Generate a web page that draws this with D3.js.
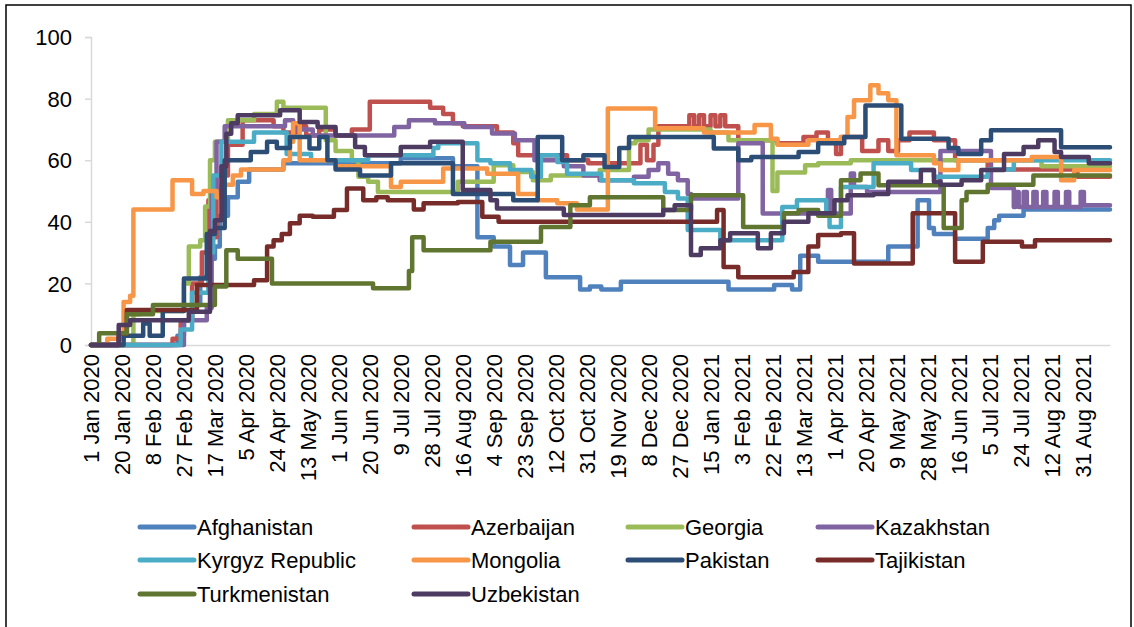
<!DOCTYPE html>
<html>
<head>
<meta charset="utf-8">
<script src="https://cdn.jsdelivr.net/npm/d3@7"></script>
<style>
  body { margin: 0; background: #fff; }
  text { font-family: "Liberation Sans", Arial, sans-serif; fill: #000; }
</style>
</head>
<body>
<div id="chart"></div>
<script>
// daily index since 1 Jan 2020; each series is a list of [day, value] change points
var startDate = new Date(2020, 0, 1);
var lastDay = 625;
var tickDays = d3.range(0, 609, 19);
var yTicks = [0, 20, 40, 60, 80, 100];

var countries = ["Afghanistan", "Azerbaijan", "Georgia", "Kazakhstan", "Kyrgyz Republic",
                 "Mongolia", "Pakistan", "Tajikistan", "Turkmenistan", "Uzbekistan"];
var colors = ["#4F81BD", "#C0504D", "#9BBB59", "#8064A2", "#4BACC6",
              "#F79646", "#2C4D75", "#772C2A", "#5F7530", "#4D3B62"];

var afghanistan = [[0,0],[53,3],[57,8],[62,13],[67,22],[72,28],[76,32],[79,42],[84,48],[90,53],[97,57],
  [118,59],[190,60.6],[222,58],[237,35],[247,32],[257,26],[265,30],[279,22],[300,18],[306,19],[313,18],
  [325,20.5],[391,18],[419,19.5],[430,18],[435,29],[446,27],[489,32],[507,47],[514,38],[517,36],
  [530,34.5],[550,38],[554,40.5],[557,42],[572,44]];
var azerbaijan = [[0,0],[50,2],[55,8],[62,20],[68,30],[72,47],[74,35],[77,55],[84,65],[93,73],[112,71],
  [118,69],[126,71],[132,68],[140,70],[150,68],[160,70],[171,79],[208,77],[216,75],[222,72],[228,71],
  [249,69],[259,65.5],[262,61.6],[292,60],[305,59],[337,65],[341,60],[345,65],[348,71],[367,74.6],
  [370,71],[373,74.6],[376,71],[380,74.6],[383,71],[386,74.6],[389,71],[397,66.5],[421,65.5],
  [437,67.5],[445,69],[452,66.5],[457,62],[460,67.5],[473,63],[483,66.5],[489,63],[495,66.5],
  [502,69],[517,66.5],[530,60],[550,57],[605,54.6]];
var georgia = [[0,0],[26,10],[30,11],[57,20],[60,32],[67,34],[70,45],[73,60],[76,66],[84,73],[100,75],
  [114,79],[118,77],[144,66.5],[150,63],[160,60],[164,54.6],[170,53],[176,49.7],[225,53],[247,58.4],
  [259,56.2],[271,53.5],[282,55],[312,56.8],[330,65.5],[334,66.5],[342,70],[380,69],[391,66.5],
  [418,50],[421,56],[438,58.4],[446,59],[466,60],[583,58]];
var kazakhstan = [[0,0],[57,8],[71,12],[74,50],[77,66],[82,71],[119,73],[124,70],[136,68],[186,70.8],
  [195,73],[211,72],[229,70.8],[246,68.7],[260,66.5],[272,60],[290,58],[302,55],[312,53.5],[333,54.6],
  [342,56.8],[348,59],[354,55.6],[360,53.5],[366,49],[368,47.6],[397,65.5],[412,42.7],[452,50.3],
  [454,42.7],[466,55.7],[468,51.3],[476,49.7],[521,63],[552,51],[566,44.8],[567,49.7],[569,44.8],
  [572,49.7],[574,44.8],[578,49.7],[580,44.8],[584,49.7],[586,44.8],[591,49.7],[593,44.8],[598,49.7],
  [600,44.8],[607,49.7],[609,45.4]];
var kyrgyz = [[0,0],[55,5],[62,17],[72,30],[75,55],[80,66],[100,69],[120,62],[135,60],[170,61.6],
  [210,64],[213,65.5],[237,60],[245,59],[257,56.8],[270,54.6],[276,61.6],[286,59.4],[292,55.6],
  [313,53.5],[333,52.5],[352,49.7],[360,47.6],[366,37.3],[386,34],[424,44.8],[433,47],[451,42.8],
  [453,38.3],[460,51.3],[480,59],[503,56.8],[517,54.6],[550,57],[566,60]];
var mongolia = [[0,0],[10,2],[20,14],[24,16],[26,44],[50,53.5],[62,49],[69,50],[77,48],[80,52],[87,55],
  [92,57],[118,60],[122,66],[124,72],[128,60],[150,58],[184,51.3],[190,53],[216,57.3],[243,55.6],
  [262,49],[274,47],[286,46],[298,44],[317,76.8],[346,70.4],[376,69],[407,71.4],[417,67],[421,65],
  [440,66.5],[460,67.5],[464,74],[468,79.5],[478,84.3],[483,81.7],[489,79.5],[494,61.6],[517,59],
  [521,56.8],[532,60],[577,61],[595,53.5],[603,56.8]];
var pakistan = [[0,0],[20,3],[32,7],[36,3],[44,11],[57,21.6],[71,36],[76,38],[82,60],[98,62.7],
  [108,66],[114,64],[122,67.5],[134,63.8],[140,67.5],[145,60],[150,57],[165,55],[184,59],[222,49],
  [259,47],[274,67.5],[289,60],[302,61.6],[315,57.8],[324,64],[330,67.5],[382,63.8],[397,60],[405,61],
  [434,62.7],[446,65.5],[462,67.5],[475,77.8],[497,67],[526,64],[532,62],[546,66.5],[552,69.7],
  [595,64.2]];
var tajikistan = [[0,0],[17,3.7],[22,11.4],[60,11.4],[65,19.5],[100,21],[108,32],[112,34],[117,36],
  [122,39.5],[128,42],[136,41.6],[149,43.8],[157,50.8],[167,47],[175,48],[182,47],[198,44],[204,46],
  [225,46.4],[240,41.6],[250,40],[384,43.8],[388,25.3],[397,22],[431,23.7],[440,32],[446,35.7],
  [460,36.3],[468,26.5],[504,42.8],[530,27],[547,33.5],[571,32],[579,34]];
var turkmenistan = [[0,0],[5,3.8],[22,10],[38,13],[76,19],[83,30.8],[90,28],[111,20],[173,18.4],
  [195,24],[197,35],[204,30.8],[245,33.5],[276,38.3],[294,45.4],[306,48],[351,43.8],[368,48.6],
  [400,38.3],[425,42.8],[434,43.8],[446,42],[460,53.5],[472,55.7],[483,51.9],[523,38],[534,47],
  [537,49.7],[550,52],[578,55]];
var uzbekistan = [[0,0],[17,6.5],[24,8],[60,10.8],[73,37],[76,40.5],[80,58],[83,68.6],[86,72],[90,74.6],
  [116,76.2],[128,72.4],[139,70.8],[150,68],[162,64.3],[168,61.6],[190,64.3],[208,66],[228,50.3],
  [245,47],[249,44.3],[290,42.2],[351,43.8],[358,45.4],[368,29.2],[374,31.4],[386,34],[392,36.3],
  [409,31.4],[417,36.3],[425,40],[440,42.8],[456,47],[464,48.6],[480,49],[489,53],[509,56.8],[517,53],
  [521,52],[534,53.5],[546,56.8],[560,62],[572,64.3],[581,66.5],[591,62.7],[595,61],[612,59]];

var series = [afghanistan, azerbaijan, georgia, kazakhstan, kyrgyz,
              mongolia, pakistan, tajikistan, turkmenistan, uzbekistan];

var width = 1134, height = 627;
var svg = d3.select("#chart").append("svg")
  .attr("width", width)
  .attr("height", height);

svg.append("rect")
  .attr("x", 6).attr("y", 5)
  .attr("width", 1125).attr("height", 640)
  .attr("fill", "#fff")
  .attr("stroke", "#000")
  .attr("stroke-width", 1.5);

var x = d3.scaleLinear().domain([0, lastDay]).range([91, 1110]);
var y = d3.scaleLinear().domain([0, 100]).range([345, 37]);

var fmt = d3.timeFormat("%-d %b %Y");

// y axis
var yAxis = svg.append("g")
  .attr("transform", "translate(91,0)")
  .call(d3.axisLeft(y).tickValues(yTicks).tickSize(6).tickPadding(13));
yAxis.select(".domain").attr("stroke", "#D9D9D9").attr("stroke-width", 1.5);
yAxis.selectAll(".tick line").attr("stroke", "#D9D9D9").attr("stroke-width", 1.5);
yAxis.selectAll("text").style("font-size", "22px").attr("dy", "0.35em");

// x axis
var xAxis = svg.append("g")
  .attr("transform", "translate(0,345)")
  .call(d3.axisBottom(x).tickValues(tickDays).tickSize(0)
    .tickFormat(function(d) { return fmt(d3.timeDay.offset(startDate, d)); }));
xAxis.select(".domain").attr("stroke", "#D9D9D9").attr("stroke-width", 1.5);
xAxis.selectAll("text")
  .style("font-size", "22px")
  .attr("text-anchor", "end")
  .attr("transform", "rotate(-90)")
  .attr("x", -9)
  .attr("y", 0)
  .attr("dy", "0.36em");

// lines
var line = d3.line()
  .x(function(d) { return x(d[0]); })
  .y(function(d) { return y(d[1]); })
  .curve(d3.curveStepAfter);

series.forEach(function(s, i) {
  var pts = s.concat([[lastDay, s[s.length - 1][1]]]);
  svg.append("path")
    .datum(pts)
    .attr("fill", "none")
    .attr("stroke", colors[i])
    .attr("stroke-width", 4.5)
    .attr("stroke-linejoin", "round")
    .attr("stroke-linecap", "round")
    .attr("d", line);
});

// legend
var legX = [140, 414, 628, 818];
var legY = [527, 560, 594];
var legend = svg.selectAll(".leg")
  .data(countries)
  .enter().append("g")
  .attr("class", "leg")
  .attr("transform", function(d, i) {
    return "translate(" + legX[i % 4] + "," + legY[Math.floor(i / 4)] + ")";
  });
legend.append("line")
  .attr("x1", 0).attr("x2", 54)
  .attr("stroke", function(d, i) { return colors[i]; })
  .attr("stroke-width", 5)
  .attr("stroke-linecap", "round");
legend.append("text")
  .attr("x", 57)
  .attr("dy", "0.35em")
  .style("font-size", "22px")
  .text(function(d) { return d; });
</script>
</body>
</html>
